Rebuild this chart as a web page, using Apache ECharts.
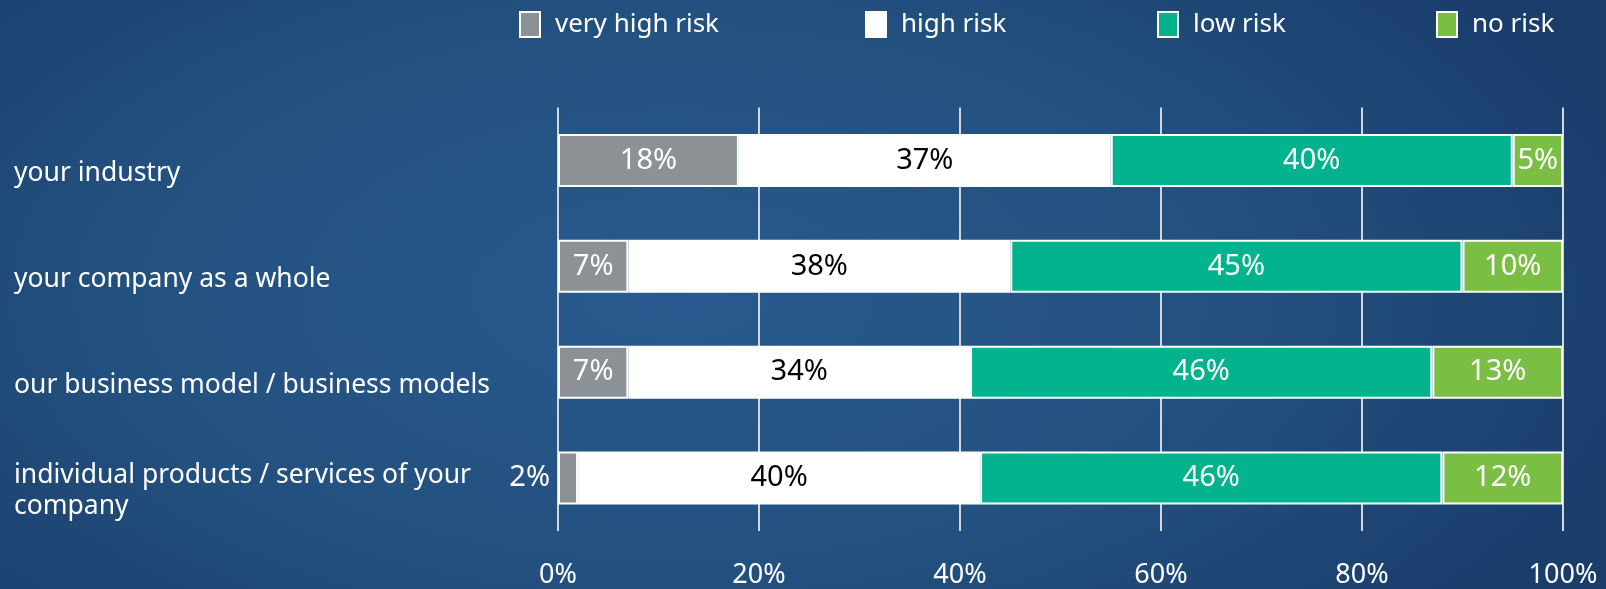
<!DOCTYPE html>
<html>
<head>
<meta charset="utf-8">
<script src="https://cdn.jsdelivr.net/npm/echarts@6/dist/echarts.min.js"></script>
<style>
html,body{margin:0;padding:0;width:1606px;height:589px;overflow:hidden;
background:radial-gradient(ellipse 62% 85% at 42% 50%, #285a8f 0%, #23517f 55%, #1a3d6c 100%);}
#chart{width:1606px;height:589px;}
</style>
</head>
<body>
<div id="chart"></div>
<script>
const categories = ['your industry', 'your company as a whole', 'our business model / business models', 'individual products / services of your company'];
const seriesNames = ['very high risk', 'high risk', 'low risk', 'no risk'];
const veryHighRisk = [18, 7, 7, 2];
const highRisk = [37, 38, 34, 40];
const lowRisk = [40, 45, 46, 46];
const noRisk = [5, 10, 13, 12];
const xTicks = [0, 20, 40, 60, 80, 100];

const FONT = '"Noto Sans", "Open Sans", sans-serif';
const colors = ['#8b9194', '#ffffff', '#02b38d', '#7abf44'];
const labelColors = ['#ffffff', '#000000', '#ffffff', '#ffffff'];
const values = [veryHighRisk, highRisk, lowRisk, noRisk];

const series = seriesNames.map((name, si) => ({
  name,
  type: 'bar',
  stack: 'total',
  barWidth: '50%',
  xAxisIndex: 0,
  yAxisIndex: 0,
  itemStyle: { color: colors[si], borderColor: '#ffffff', borderWidth: 2 },
  label: {
    show: true,
    position: 'inside',
    formatter: '{c}%',
    color: labelColors[si],
    fontFamily: FONT,
    fontSize: 29
  },
  emphasis: { disabled: true },
  data: values[si].map((v, i) => {
    if (si === 0 && v < 4) {
      return { value: v, label: { position: 'left', distance: 8, color: '#ffffff' } };
    }
    return v;
  })
}));

const legendLefts = [519, 865, 1157, 1436];
const legends = seriesNames.map((name, i) => ({
  data: [name],
  left: legendLefts[i],
  top: 11,
  padding: 0,
  itemWidth: 20,
  itemHeight: 25,
  itemGap: 0,
  icon: 'rect',
  selectedMode: false,
  textStyle: { color: '#ffffff', fontFamily: FONT, fontSize: 26, padding: [7, 0, 0, 10] }
}));

const chart = echarts.init(document.getElementById('chart'), null, { renderer: 'canvas' });
chart.setOption({
  backgroundColor: 'transparent',
  animation: false,
  legend: legends,
  grid: [
    { left: 558, right: 43, top: 107.5, bottom: 58, containLabel: false },
    { left: 558, right: 43, top: 120.5, bottom: 45, containLabel: false }
  ],
  xAxis: [{
    type: 'value',
    gridIndex: 0,
    min: xTicks[0],
    max: xTicks[xTicks.length - 1],
    interval: 20,
    axisLine: { show: false },
    axisTick: { show: false },
    splitLine: { show: true, lineStyle: { color: '#d3d6da', width: 2 } },
    axisLabel: {
      color: '#ffffff', fontFamily: FONT, fontSize: 27, margin: 31,
      formatter: v => v + '%'
    }
  }, {
    type: 'value',
    gridIndex: 1,
    min: 0, max: 100,
    show: false
  }],
  yAxis: [{
    type: 'category',
    gridIndex: 0,
    inverse: true,
    data: categories,
    axisLine: { show: false },
    axisTick: { show: false },
    splitLine: { show: false },
    axisLabel: { show: false }
  }, {
    type: 'category',
    gridIndex: 1,
    inverse: true,
    data: categories,
    axisLine: { show: false },
    axisTick: { show: false },
    splitLine: { show: false },
    axisLabel: {
      color: '#ffffff', fontFamily: FONT, fontSize: 26.5, lineHeight: 31,
      align: 'left', margin: 544, width: 490, overflow: 'break'
    }
  }],
  series
});
</script>
</body>
</html>
